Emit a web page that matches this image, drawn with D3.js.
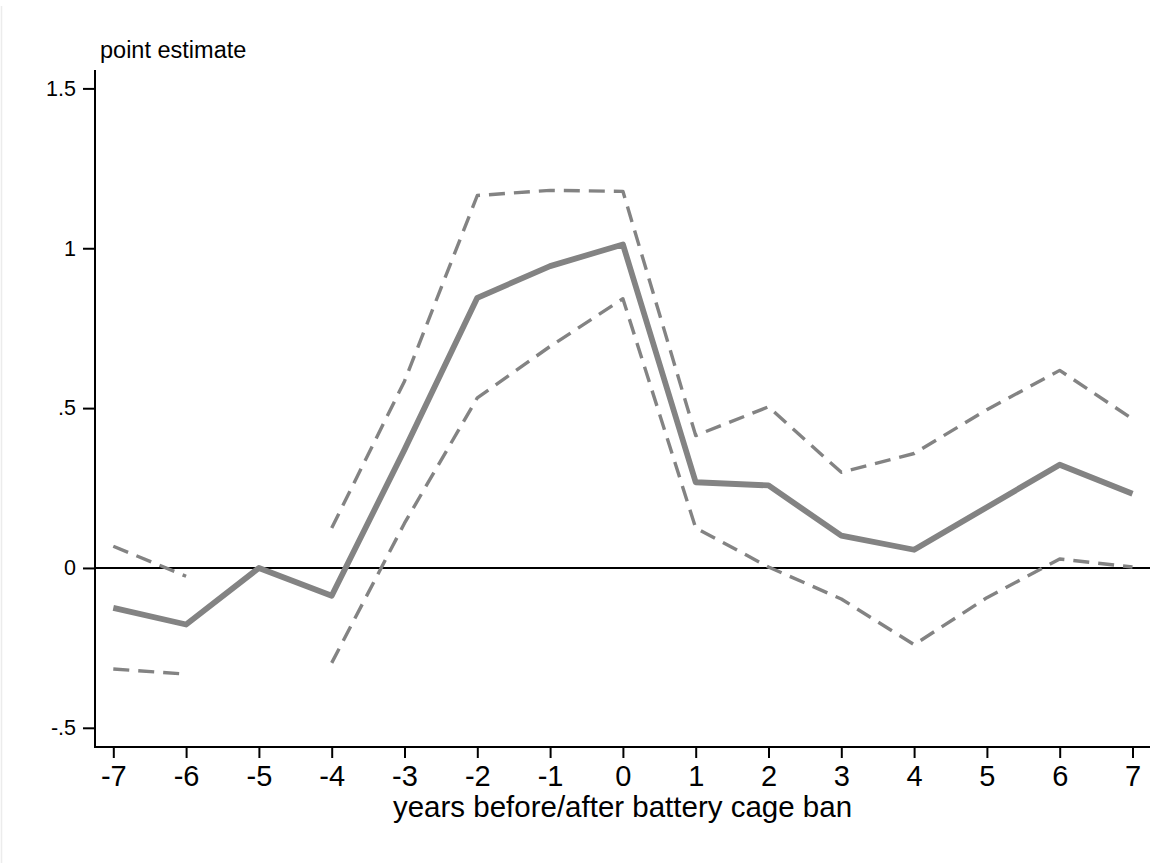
<!DOCTYPE html>
<html>
<head>
<meta charset="utf-8">
<script src="https://cdn.jsdelivr.net/npm/d3@7"></script>
<style>
  html, body { margin: 0; padding: 0; background: #fff; }
  svg { display: block; }
  text { font-family: "Liberation Sans", Arial, Helvetica, sans-serif; fill: #000; }
</style>
</head>
<body>
<svg id="chart" width="1154" height="863"></svg>
<script>
// ---- data ----
const years = [-7, -6, -5, -4, -3, -2, -1, 0, 1, 2, 3, 4, 5, 6, 7];
const estimate = [-0.125, -0.177, 0.000, -0.087, 0.370, 0.845, 0.944, 1.012, 0.268, 0.258, 0.101, 0.057, 0.190, 0.323, 0.232];
const upperCI = [0.068, -0.026, null, 0.125, 0.584, 1.165, 1.181, 1.178, 0.414, 0.504, 0.299, 0.358, 0.495, 0.618, 0.466];
const lowerCI = [-0.316, -0.332, null, -0.297, 0.140, 0.532, 0.693, 0.842, 0.125, 0.003, -0.097, -0.240, -0.093, 0.028, 0.003];
const yTicks = [-0.5, 0, 0.5, 1, 1.5];
const yTickLabels = ["-.5", "0", ".5", "1", "1.5"];
const xTitle = "years before/after battery cage ban";
const yTitle = "point estimate";

// ---- layout ----
const svg = d3.select("#chart");
const W = 1154, H = 863;
const axisX = 95, axisY = 747, plotRight = 1150, plotTop = 70;

const x = d3.scaleLinear().domain([-7, 7]).range([113.3, 1132.5]);
const y = d3.scaleLinear().domain([-0.5, 1.5]).range([727.8, 88.4]);

svg.append("rect").attr("width", W).attr("height", H).attr("fill", "#fff");
// faint graph-region edge at left
svg.append("line").attr("x1", 1.5).attr("x2", 1.5).attr("y1", 6).attr("y2", H)
  .attr("stroke", "#ececec").attr("stroke-width", 1.5);

// zero reference line
svg.append("line")
  .attr("x1", axisX).attr("x2", plotRight)
  .attr("y1", y(0)).attr("y2", y(0))
  .attr("stroke", "#000").attr("stroke-width", 2);

// series
const pts = arr => years.map((yr, i) => ({ x: yr, v: arr[i] }));
const line = d3.line().defined(d => d.v !== null).x(d => x(d.x)).y(d => y(d.v));
const grey = "#838383";

[upperCI, lowerCI].forEach(arr => {
  svg.append("path").datum(pts(arr)).attr("d", line)
    .attr("fill", "none").attr("stroke", grey).attr("stroke-width", 3.4)
    .attr("stroke-dasharray", "16,9").attr("stroke-linejoin", "round");
});
svg.append("path").datum(pts(estimate)).attr("d", line)
  .attr("fill", "none").attr("stroke", grey).attr("stroke-width", 5.8)
  .attr("stroke-linejoin", "round");

// y axis
const yAxisG = svg.append("g").attr("transform", `translate(${axisX},0)`);
yAxisG.call(d3.axisLeft(y).tickValues(yTicks).tickSize(12).tickPadding(7)
  .tickFormat((d, i) => yTickLabels[i]));
yAxisG.select(".domain").remove();
yAxisG.selectAll(".tick line").attr("stroke", "#000").attr("stroke-width", 2);
yAxisG.selectAll(".tick text").attr("font-size", 21.5)
  .attr("font-family", "Liberation Sans, Arial, sans-serif").attr("fill", "#000");
svg.append("line").attr("x1", axisX).attr("x2", axisX).attr("y1", plotTop).attr("y2", axisY + 1)
  .attr("stroke", "#000").attr("stroke-width", 2);

// x axis
const xAxisG = svg.append("g").attr("transform", `translate(0,${axisY})`);
xAxisG.call(d3.axisBottom(x).tickValues(years).tickSize(11).tickPadding(7)
  .tickFormat(d3.format("d")));
xAxisG.select(".domain").remove();
xAxisG.selectAll(".tick line").attr("stroke", "#000").attr("stroke-width", 2);
xAxisG.selectAll(".tick text").attr("font-size", 29)
  .attr("font-family", "Liberation Sans, Arial, sans-serif").attr("fill", "#000")
  .text(d => d < 0 ? "-" + Math.abs(d) : String(d));
svg.append("line").attr("x1", axisX - 1).attr("x2", plotRight).attr("y1", axisY).attr("y2", axisY)
  .attr("stroke", "#000").attr("stroke-width", 2);

// titles
svg.append("text").attr("x", (axisX + plotRight) / 2).attr("y", 817)
  .attr("text-anchor", "middle").attr("font-size", 29.5).text(xTitle);
svg.append("text").attr("x", 100).attr("y", 58)
  .attr("font-size", 23.5).text(yTitle);
</script>
</body>
</html>
